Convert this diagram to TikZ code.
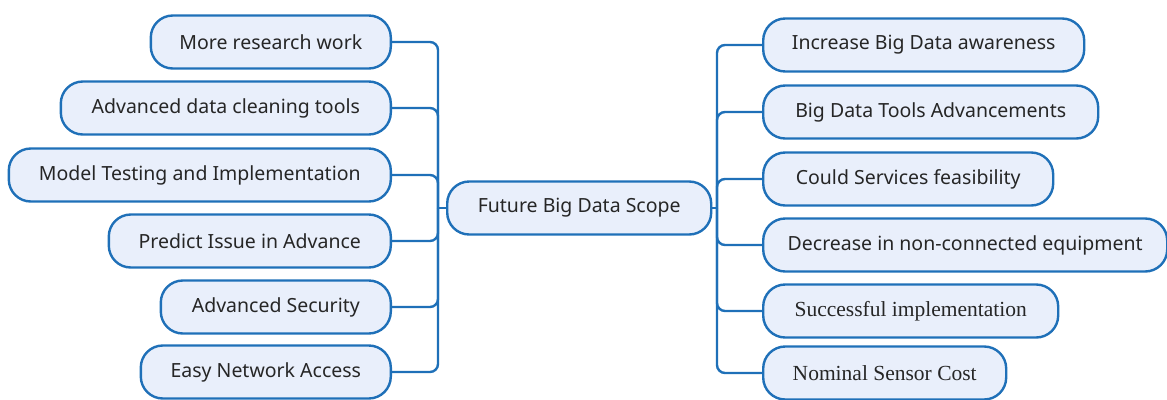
\documentclass[tikz,border=0pt]{standalone}
\usepackage{fontspec}
\setmainfont{Noto Sans}
\newfontfamily\serifface{Liberation Serif}
\definecolor{edgeblue}{HTML}{1F70B8}
\definecolor{boxfill}{HTML}{E9EFFB}
\definecolor{txt}{HTML}{262626}
\begin{document}
\begin{tikzpicture}[x=1pt,y=-1pt,
  topic/.style={draw=edgeblue, line width=2.4pt, fill=boxfill, rounded corners=22pt,
    minimum height=53pt, inner sep=0pt, text=txt, font=\fontsize{19.5}{22}\selectfont},
  serifed/.style={font=\serifface\fontsize{21.5}{24}\selectfont},
  link/.style={draw=edgeblue, line width=2.4pt, rounded corners=8pt}]
\useasboundingbox (0,0) rectangle (1167,399);
% central topic
\node[topic, minimum width=264pt, anchor=west] (root) at (446,208) {Future Big Data Scope};
% left branch
\node[topic, minimum width=240pt, anchor=east] (l1) at (392,42) {More research work};
\node[topic, minimum width=330pt, anchor=east] (l2) at (392,108) {Advanced data cleaning tools};
\node[topic, minimum width=382pt, anchor=east] (l3) at (392,175) {Model Testing and Implementation};
\node[topic, minimum width=282pt, anchor=east] (l4) at (392,241) {Predict Issue in Advance};
\node[topic, minimum width=230pt, anchor=east] (l5) at (392,307) {Advanced Security};
\node[topic, minimum width=250pt, anchor=east] (l6) at (392,372) {Easy Network Access};
% right branch
\node[topic, minimum width=321pt, anchor=west] (r1) at (762,45) {Increase Big Data awareness};
\node[topic, minimum width=335pt, anchor=west] (r2) at (762,112) {Big Data Tools Advancements};
\node[topic, minimum width=290pt, anchor=west] (r3) at (762,179) {Could Services feasibility};
\node[topic, minimum width=404pt, anchor=west] (r4) at (762,245) {Decrease in non-connected equipment};
\node[topic, serifed, minimum width=295pt, anchor=west] (r5) at (762,311) {Successful implementation};
\node[topic, serifed, minimum width=243pt, anchor=west] (r6) at (762,373) {Nominal Sensor Cost};
% trunk positions
\coordinate (lt) at (438,208);
\coordinate (rt) at (717,208);
% connectors
\draw[link] (root.west) -- (lt);
\draw[link] (root.east) -- (rt);
\foreach \c in {l1,l2,l3,l4,l5,l6}
  \draw[link] (lt) |- (\c.east);
\foreach \c in {r1,r2,r3,r4,r5,r6}
  \draw[link] (rt) |- (\c.west);
\end{tikzpicture}
\end{document}
